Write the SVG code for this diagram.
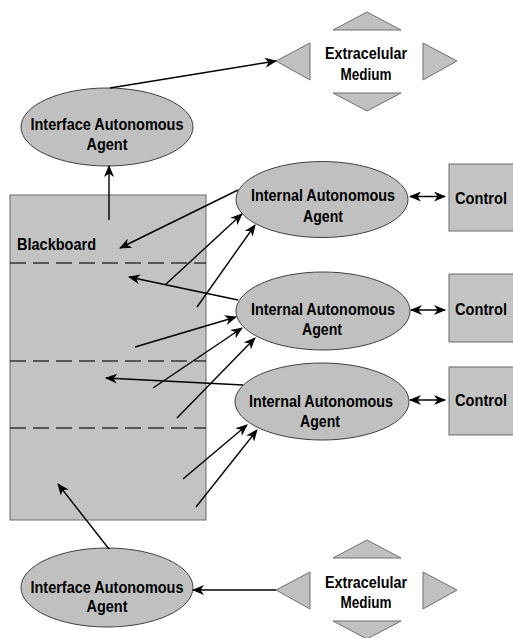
<svg xmlns="http://www.w3.org/2000/svg" width="513" height="638" viewBox="0 0 513 638">
<defs>
<marker id="ah" markerUnits="userSpaceOnUse" markerWidth="12" markerHeight="10" viewBox="0 0 12 10" refX="11" refY="5" orient="auto-start-reverse">
<path d="M0,0 L12,5 L0,10 L3.5,5 z" fill="#000"/>
</marker>
</defs>
<style>
.nd{fill:#c0c0c0;stroke:#404040;stroke-width:1}
.box{fill:#c3c3c3;stroke:#6a6a6a;stroke-width:1}
.tri{fill:#c0c0c0;stroke:#707070;stroke-width:1}
.t{font-family:"Liberation Sans",Arial,sans-serif;font-weight:bold;font-size:16px;fill:#000;text-anchor:middle}
.tl{font-family:"Liberation Sans",Arial,sans-serif;font-weight:bold;font-size:16px;fill:#000}
.dash{stroke:#333;stroke-width:1.6;stroke-dasharray:16 7;fill:none}
.c{stroke:#000;stroke-width:1.4;fill:none;marker-end:url(#ah)}
.d{stroke:#000;stroke-width:1.4;fill:none;marker-end:url(#ah);marker-start:url(#ah)}
</style>
<g id="blackboard">
<rect class="box" x="10" y="195" width="196" height="325"/>
<line class="dash" x1="10" y1="263" x2="206" y2="263"/>
<line class="dash" x1="10" y1="361" x2="206" y2="361"/>
<line class="dash" x1="10" y1="428" x2="206" y2="428"/>
<text class="tl" x="17" y="250" textLength="79" lengthAdjust="spacingAndGlyphs">Blackboard</text>
</g>
<g id="extra-top">
<polygon class="tri" points="333,30 367,12 401,30"/>
<polygon class="tri" points="310,43 276,61 310,80"/>
<polygon class="tri" points="423,43 457,61 423,80"/>
<polygon class="tri" points="333,93 401,93 367,111"/>
<text class="t" x="366" y="59" textLength="82" lengthAdjust="spacingAndGlyphs">Extracelular</text>
<text class="t" x="366" y="80" textLength="51" lengthAdjust="spacingAndGlyphs">Medium</text>
</g>
<g id="interface-top">
<ellipse class="nd" cx="107" cy="127" rx="86" ry="39"/>
<text class="t" x="107" y="130" textLength="153" lengthAdjust="spacingAndGlyphs">Interface Autonomous</text>
<text class="t" x="107" y="149.5" textLength="41" lengthAdjust="spacingAndGlyphs">Agent</text>
</g>
<g id="internal-1">
<ellipse class="nd" cx="322" cy="199.5" rx="86" ry="38"/>
<text class="t" x="323" y="201" textLength="144" lengthAdjust="spacingAndGlyphs">Internal Autonomous</text>
<text class="t" x="323" y="221.5" textLength="40" lengthAdjust="spacingAndGlyphs">Agent</text>
</g>
<g id="internal-2">
<ellipse class="nd" cx="323" cy="311" rx="87" ry="39"/>
<text class="t" x="323" y="315" textLength="144" lengthAdjust="spacingAndGlyphs">Internal Autonomous</text>
<text class="t" x="322" y="335" textLength="40" lengthAdjust="spacingAndGlyphs">Agent</text>
</g>
<g id="internal-3">
<ellipse class="nd" cx="322" cy="401.5" rx="87" ry="38.5"/>
<text class="t" x="321" y="406.5" textLength="144" lengthAdjust="spacingAndGlyphs">Internal Autonomous</text>
<text class="t" x="320" y="426.5" textLength="40" lengthAdjust="spacingAndGlyphs">Agent</text>
</g>
<g id="control-1">
<rect class="box" x="449" y="164" width="80" height="67"/>
<text class="tl" x="455" y="203.5" textLength="52" lengthAdjust="spacingAndGlyphs">Control</text>
</g>
<g id="control-2">
<rect class="box" x="449" y="274" width="80" height="68"/>
<text class="tl" x="455" y="315" textLength="52" lengthAdjust="spacingAndGlyphs">Control</text>
</g>
<g id="control-3">
<rect class="box" x="449" y="367" width="80" height="68"/>
<text class="tl" x="455" y="405.5" textLength="52" lengthAdjust="spacingAndGlyphs">Control</text>
</g>
<g id="interface-bottom">
<ellipse class="nd" cx="107" cy="587.5" rx="86" ry="39.5"/>
<text class="t" x="107" y="593" textLength="153" lengthAdjust="spacingAndGlyphs">Interface Autonomous</text>
<text class="t" x="107" y="612" textLength="41" lengthAdjust="spacingAndGlyphs">Agent</text>
</g>
<g id="extra-bottom">
<polygon class="tri" points="333,558 367,540 401,558"/>
<polygon class="tri" points="310,572 276,590 310,609"/>
<polygon class="tri" points="423,572 457,590 423,609"/>
<polygon class="tri" points="333,621 401,621 367,639"/>
<text class="t" x="366" y="588" textLength="82" lengthAdjust="spacingAndGlyphs">Extracelular</text>
<text class="t" x="366" y="607.5" textLength="51" lengthAdjust="spacingAndGlyphs">Medium</text>
</g>
<g id="connectors">
<line class="c" x1="110" y1="88" x2="276" y2="61"/>
<line class="c" x1="109" y1="220" x2="109" y2="166"/>
<line class="c" x1="238" y1="190" x2="120" y2="248"/>
<line class="c" x1="165" y1="285" x2="242" y2="214"/>
<line class="c" x1="197" y1="307" x2="255" y2="225"/>
<line class="c" x1="238" y1="300" x2="129" y2="277"/>
<line class="c" x1="135" y1="347" x2="236" y2="317"/>
<line class="c" x1="153" y1="388" x2="242" y2="328"/>
<line class="c" x1="177" y1="418" x2="255" y2="338"/>
<line class="c" x1="243" y1="385" x2="106" y2="378"/>
<line class="c" x1="183" y1="479" x2="247" y2="425"/>
<line class="c" x1="196" y1="507" x2="257" y2="430"/>
<line class="c" x1="109" y1="549" x2="58" y2="484"/>
<line class="c" x1="276" y1="590" x2="193" y2="590"/>
<line class="d" x1="410" y1="196.5" x2="445" y2="196.5"/>
<line class="d" x1="411" y1="310" x2="445" y2="310"/>
<line class="d" x1="410" y1="400" x2="445" y2="400"/>
</g>
</svg>
